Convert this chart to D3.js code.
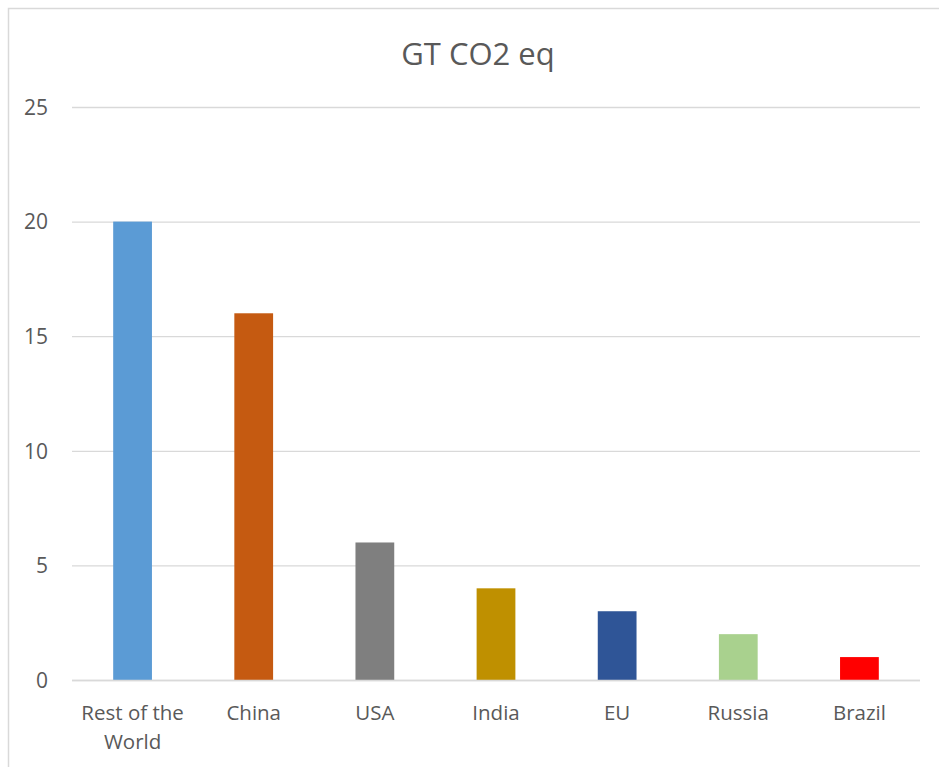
<!DOCTYPE html>
<html>
<head>
<meta charset="utf-8">
<script src="https://cdn.jsdelivr.net/npm/d3@7"></script>
<style>
  body { margin: 0; background: #fff; }
  text { font-family: "Open Sans", "Noto Sans", sans-serif; fill: #595959; }
</style>
</head>
<body>
<div id="chart"></div>
<script>
// data
const categories = ["Rest of the World", "China", "USA", "India", "EU", "Russia", "Brazil"];
const values = [20, 16, 6, 4, 3, 2, 1];
const barColors = ["#5B9BD5", "#C55A11", "#7F7F7F", "#BF9000", "#2F5597", "#A9D18E", "#FF0000"];
const yTicks = [0, 5, 10, 15, 20, 25];
const title = "GT CO2 eq";

const W = 939, H = 767;
const margin = {top: 107, right: 19, bottom: 87, left: 72};
const width = W - margin.left - margin.right,
      height = H - margin.top - margin.bottom;

const svg = d3.select("#chart").append("svg")
    .attr("width", W)
    .attr("height", H);

// chart frame (runs off the right / bottom edge)
svg.append("rect")
    .attr("x", 8.5).attr("y", 8.5)
    .attr("width", W + 10).attr("height", H + 10)
    .attr("fill", "none")
    .attr("stroke", "#d9d9d9")
    .attr("stroke-width", 1.5);

svg.append("text")
    .attr("x", 478)
    .attr("y", 65)
    .attr("text-anchor", "middle")
    .style("font-size", "31px")
    .text(title);

const g = svg.append("g")
    .attr("transform", "translate(" + margin.left + "," + margin.top + ")");

const x = d3.scaleBand()
    .domain(categories)
    .range([0, width])
    .paddingInner(0.68)
    .paddingOuter(0.34);

const y = d3.scaleLinear()
    .domain([0, 25])
    .range([height, 0]);

// gridlines + tick labels
const yAxis = d3.axisLeft(y).tickValues(yTicks).tickSize(-width).tickPadding(24);
g.append("g")
    .call(yAxis)
    .call(a => a.select(".domain").remove())
    .call(a => a.selectAll("line").attr("stroke", "#d9d9d9").attr("stroke-width", 1.3))
    .call(a => a.selectAll("text")
        .style("font-size", "21px")
        .attr("fill", "#595959")
        .attr("dy", "0.35em"));

g.selectAll(".bar")
    .data(values)
  .enter().append("rect")
    .attr("class", "bar")
    .attr("x", (d, i) => x(categories[i]))
    .attr("width", x.bandwidth())
    .attr("y", d => y(d))
    .attr("height", d => height - y(d))
    .attr("fill", (d, i) => barColors[i]);

// baseline drawn over bars
g.append("line")
    .attr("x1", 0).attr("x2", width)
    .attr("y1", height + 0.5).attr("y2", height + 0.5)
    .attr("stroke", "#d9d9d9")
    .attr("stroke-width", 1.3);

// category labels, wrapped like the original
const wrapAt = {"Rest of the World": ["Rest of the", "World"]};
const lab = g.append("g").selectAll("text")
    .data(categories)
  .enter().append("text")
    .attr("x", d => x(d) + x.bandwidth() / 2)
    .attr("y", height + 40)
    .attr("text-anchor", "middle")
    .style("font-size", "20.5px");
lab.each(function(d) {
  const lines = wrapAt[d] || [d];
  d3.select(this).selectAll("tspan")
    .data(lines)
    .enter().append("tspan")
    .attr("x", x(d) + x.bandwidth() / 2)
    .attr("dy", (l, i) => i === 0 ? 0 : 29)
    .text(l => l);
});
</script>
</body>
</html>
